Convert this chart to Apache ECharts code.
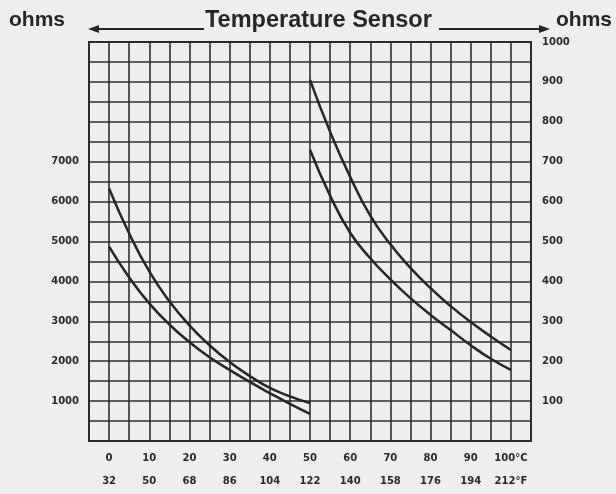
<!DOCTYPE html>
<html>
<head>
<meta charset="utf-8">
<script src="https://cdn.jsdelivr.net/npm/echarts@6/dist/echarts.min.js"></script>
<style>
html,body{margin:0;padding:0;background:#eeeeec;}
#chart{width:616px;height:494px;}
</style>
</head>
<body>
<div id="chart"></div>
<script>
// ---- data ----
var celsiusTicks = [0, 10, 20, 30, 40, 50, 60, 70, 80, 90, 100];
var fahrenheitTicks = [32, 50, 68, 86, 104, 122, 140, 158, 176, 194, 212];
var leftOhmTicks = [1000, 2000, 3000, 4000, 5000, 6000, 7000];
var rightOhmTicks = [100, 200, 300, 400, 500, 600, 700, 800, 900, 1000];

var tempsLeft = [0, 5, 10, 15, 20, 25, 30, 35, 40, 45, 50];
var upperLeft = [6330, 5200, 4250, 3500, 2900, 2400, 1980, 1630, 1330, 1120, 950];
var lowerLeft = [4870, 4100, 3450, 2920, 2480, 2100, 1780, 1480, 1200, 930, 680];

var tempsRight = [50, 55, 60, 65, 70, 75, 80, 85, 90, 95, 100];
var upperRight = [905, 775, 662, 565, 493, 434, 383, 338, 298, 262, 228];
var lowerRight = [730, 615, 522, 458, 405, 358, 316, 278, 240, 206, 178];

function pairs(xs, ys) { return xs.map(function (x, i) { return [x, ys[i]]; }); }

var ink = '#262626';
var chart = echarts.init(document.getElementById('chart'));
var curve = { type: 'line', smooth: true, symbol: 'none', lineStyle: { color: ink, width: 2.5 }, silent: true };

chart.setOption({
  backgroundColor: '#eeeeec',
  animation: false,
  grid: { left: 89, right: 85, top: 42, bottom: 53, show: true, borderColor: ink, borderWidth: 2, backgroundColor: 'transparent' },
  xAxis: {
    type: 'value', min: -5, max: 105, interval: 5,
    axisLine: { show: false }, axisTick: { show: false },
    splitLine: { show: true, lineStyle: { color: '#2e2e2e', width: 1.6 } },
    axisLabel: {
      margin: 6, color: '#2a2a2a', fontFamily: 'DejaVu Sans', fontWeight: 'bold', fontSize: 10, lineHeight: 23,
      formatter: function (v) {
        var i = celsiusTicks.indexOf(v);
        if (i < 0) return '';
        var last = i === celsiusTicks.length - 1;
        return celsiusTicks[i] + (last ? '°C' : '') + '\n' + fahrenheitTicks[i] + (last ? '°F' : '');
      }
    }
  },
  yAxis: [
    {
      type: 'value', position: 'left', min: 0, max: 10000, interval: 500,
      axisLine: { show: false }, axisTick: { show: false },
      splitLine: { show: true, lineStyle: { color: '#2e2e2e', width: 1.6 } },
      axisLabel: {
        margin: 10, color: '#2a2a2a', fontFamily: 'DejaVu Sans', fontWeight: 'bold', fontSize: 10,
        formatter: function (v) { return leftOhmTicks.indexOf(v) >= 0 ? String(v) : ''; }
      }
    },
    {
      type: 'value', position: 'right', min: 0, max: 1000, interval: 100,
      axisLine: { show: false }, axisTick: { show: false }, splitLine: { show: false },
      axisLabel: {
        margin: 11, color: '#2a2a2a', fontFamily: 'DejaVu Sans', fontWeight: 'bold', fontSize: 10,
        formatter: function (v) { return rightOhmTicks.indexOf(v) >= 0 ? String(v) : ''; }
      }
    }
  ],
  graphic: [
    { type: 'text', left: 9, top: 10, style: { text: 'ohms', font: 'bold 21px "Liberation Sans", Arial, sans-serif', fill: ink } },
    { type: 'text', left: 556, top: 10, style: { text: 'ohms', font: 'bold 21px "Liberation Sans", Arial, sans-serif', fill: ink } },
    { type: 'text', left: 205, top: 9, style: { text: 'Temperature Sensor', font: 'bold 23.5px "Liberation Sans", Arial, sans-serif', fill: ink } },
    { type: 'line', shape: { x1: 94, y1: 29, x2: 204, y2: 29 }, style: { stroke: ink, lineWidth: 2 } },
    { type: 'polygon', shape: { points: [[88, 29], [99, 25], [99, 33]] }, style: { fill: ink } },
    { type: 'line', shape: { x1: 439, y1: 29, x2: 543, y2: 29 }, style: { stroke: ink, lineWidth: 2 } },
    { type: 'polygon', shape: { points: [[550, 29], [539, 25], [539, 33]] }, style: { fill: ink } }
  ],
  series: [
    Object.assign({}, curve, { name: 'upperLeft', yAxisIndex: 0, data: pairs(tempsLeft, upperLeft) }),
    Object.assign({}, curve, { name: 'lowerLeft', yAxisIndex: 0, data: pairs(tempsLeft, lowerLeft) }),
    Object.assign({}, curve, { name: 'upperRight', yAxisIndex: 1, data: pairs(tempsRight, upperRight) }),
    Object.assign({}, curve, { name: 'lowerRight', yAxisIndex: 1, data: pairs(tempsRight, lowerRight) })
  ]
});
</script>
</body>
</html>
